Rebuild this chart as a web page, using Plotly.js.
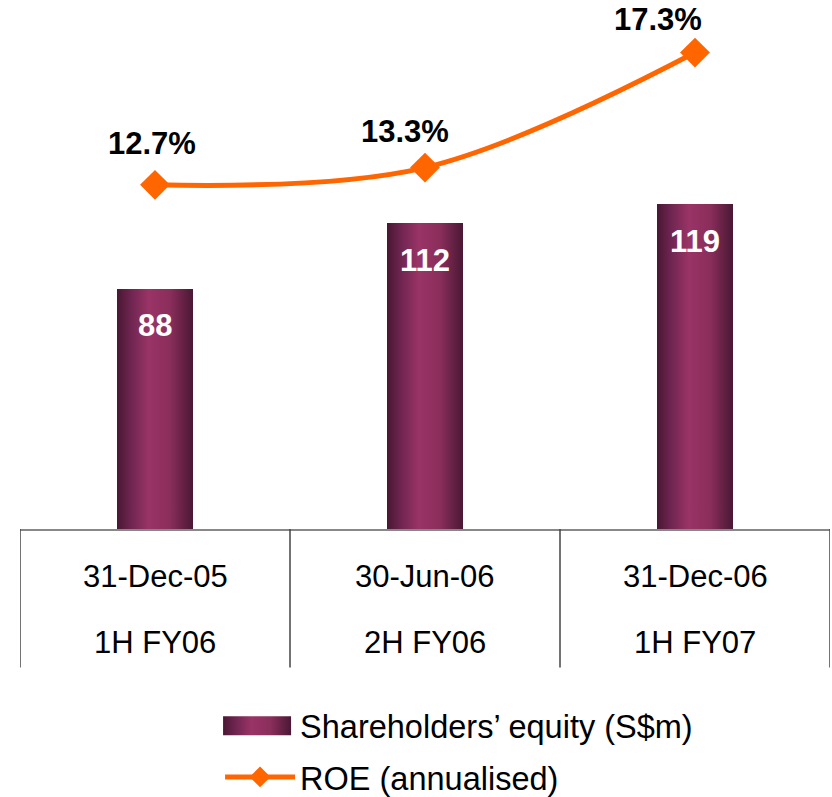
<!DOCTYPE html>
<html>
<head>
<meta charset="utf-8">
<script src="https://cdn.plot.ly/plotly-3.0.1.min.js"></script>
<style>
  html, body { margin: 0; padding: 0; background: #ffffff; }
  #chart { width: 832px; height: 797px; }
</style>
</head>
<body>
<div id="chart"></div>
<script>
// ---- data ----
var categories = ["31-Dec-05", "30-Jun-06", "31-Dec-06"];
var periodLabels = ["1H FY06", "2H FY06", "1H FY07"];
var equityValues = [88, 112, 119];
var roeValues = [12.7, 13.3, 17.3];
var equityName = "Shareholders\u2019 equity (S$m)";
var roeName = "ROE (annualised)";

// ---- styling ----
var FONT = "'Liberation Sans', Arial, Helvetica, sans-serif";
var FS = 31;
var ORANGE = "#FF6600";
var PLUM = "#8A2D5C";

var traces = [
  {
    type: "bar",
    name: equityName,
    legendgroup: "eq",
    x: categories,
    y: equityValues,
    width: 0.28,
    marker: { color: PLUM, line: { width: 0 } },
    hoverinfo: "skip"
  },
  {
    type: "scatter",
    mode: "lines+markers",
    name: roeName,
    legendgroup: "roe",
    x: categories,
    y: roeValues,
    yaxis: "y2",
    line: { color: ORANGE, width: 5, shape: "spline", smoothing: 1 },
    marker: { symbol: "diamond", size: 23, color: ORANGE, line: { width: 0 } },
    cliponaxis: false,
    hoverinfo: "skip"
  }
];

var annotations = [];
// bar value labels (inside, near top)
equityValues.forEach(function (v, i) {
  annotations.push({
    x: categories[i], y: v, xref: "x", yref: "y",
    text: "<b>" + v + "</b>", showarrow: false,
    yanchor: "middle", yshift: -37,
    font: { family: FONT, size: FS, color: "#ffffff" }
  });
});
// ROE labels
var roeXShift = [-3, -20, -37];
var roeYShift = [41, 36, 33];
roeValues.forEach(function (v, i) {
  annotations.push({
    x: categories[i], y: v, xref: "x", yref: "y2",
    text: "<b>" + v.toFixed(1) + "%</b>", showarrow: false,
    yanchor: "middle", xshift: roeXShift[i], yshift: roeYShift[i],
    font: { family: FONT, size: FS, color: "#000000" }
  });
});
// table rows
categories.forEach(function (c, i) {
  annotations.push({
    x: c, y: -0.0907, xref: "x", yref: "paper",
    text: c, showarrow: false, yanchor: "middle",
    font: { family: FONT, size: FS, color: "#000000" }
  });
  annotations.push({
    x: c, y: -0.2155, xref: "x", yref: "paper",
    text: periodLabels[i], showarrow: false, yanchor: "middle",
    font: { family: FONT, size: FS, color: "#000000" }
  });
});

// table vertical separators at category boundaries
var shapes = [];
for (var k = 0; k <= categories.length; k++) {
  shapes.push({
    type: "line", xref: "x", yref: "paper",
    x0: k - 0.5, x1: k - 0.5, y0: 0, y1: -0.262,
    line: { color: "#444444", width: 1.5 }
  });
}

var layout = {
  width: 832, height: 797,
  margin: { l: 20, r: 2, t: 0, b: 268, autoexpand: false },
  paper_bgcolor: "#ffffff",
  plot_bgcolor: "#ffffff",
  showlegend: true,
  font: { family: FONT, size: FS, color: "#000000" },
  xaxis: {
    type: "category",
    range: [-0.5, 2.5],
    showticklabels: false,
    ticks: "",
    showgrid: false,
    zeroline: false,
    showline: true,
    linecolor: "#888888",
    linewidth: 2,
    fixedrange: true
  },
  yaxis: {
    range: [0, 193.8],
    visible: false,
    showgrid: false,
    zeroline: false,
    fixedrange: true
  },
  yaxis2: {
    range: [0.729, 19.129],
    overlaying: "y",
    side: "right",
    visible: false,
    showgrid: false,
    zeroline: false,
    fixedrange: true
  },
  legend: {
    x: 0.247, y: -0.3195, xanchor: "left", yanchor: "top",
    orientation: "v",
    traceorder: "grouped",
    tracegroupgap: 6,
    itemwidth: 70,
    font: { family: FONT, size: 32.5, color: "#000000" },
    bgcolor: "rgba(0,0,0,0)"
  },
  annotations: annotations,
  shapes: shapes,
  bargap: 0
};

function applyGradient(gd) {
  var svgNS = "http://www.w3.org/2000/svg";
  var svg = gd.querySelector("svg.main-svg");
  if (!svg) return;
  if (!svg.querySelector("#plumGrad")) {
    var defs = svg.querySelector("defs");
    if (!defs) { defs = document.createElementNS(svgNS, "defs"); svg.insertBefore(defs, svg.firstChild); }
    var grad = document.createElementNS(svgNS, "linearGradient");
    grad.setAttribute("id", "plumGrad");
    grad.setAttribute("x1", "0"); grad.setAttribute("x2", "1");
    grad.setAttribute("y1", "0"); grad.setAttribute("y2", "0");
    [["0", "#4A1733"], ["0.18", "#6E2550"], ["0.42", "#9A3466"], ["0.7", "#8A2E5C"], ["1", "#4A1834"]].forEach(function (s) {
      var st = document.createElementNS(svgNS, "stop");
      st.setAttribute("offset", s[0]); st.setAttribute("stop-color", s[1]);
      grad.appendChild(st);
    });
    defs.appendChild(grad);
  }
  gd.querySelectorAll(".barlayer .point path").forEach(function (p) {
    p.style.fill = "url(#plumGrad)";
  });
  // legend swatch of the bar trace: widen to a long bar with gradient
  var items = gd.querySelectorAll(".legend .traces");
  items.forEach(function (it) {
    var txt = it.querySelector("text");
    if (txt && txt.textContent.indexOf("equity") >= 0) {
      it.querySelectorAll(".legendpoints path").forEach(function (p) {
        p.setAttribute("d", "M-37,-9.5H31V9.5H-37Z");
        p.style.fill = "url(#plumGrad)";
        p.style.stroke = "none";
      });
    }
  });
}

var gdiv = document.getElementById("chart");
Plotly.newPlot(gdiv, traces, layout, { displayModeBar: false, staticPlot: true }).then(function (gd) {
  applyGradient(gd);
  gd.on("plotly_afterplot", function () { applyGradient(gd); });
  setTimeout(function () { applyGradient(gd); }, 50);
});
</script>
</body>
</html>
